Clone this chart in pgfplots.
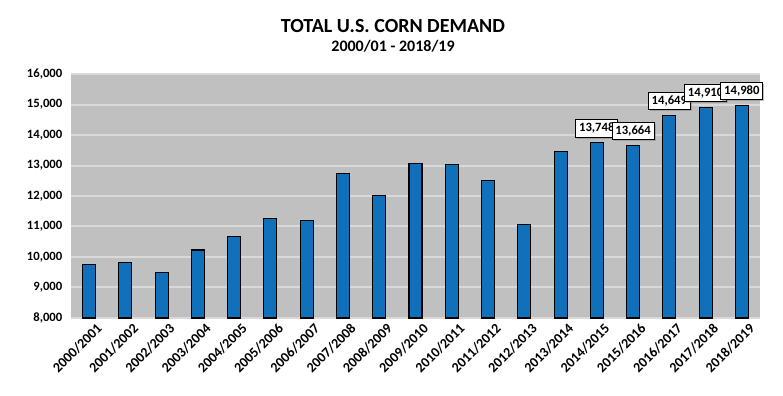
\documentclass[border=0pt]{standalone}
\usepackage{pgfplots}
\pgfplotsset{compat=1.18}
\usepackage{fontspec}
\setmainfont{Carlito}
\usetikzlibrary{shadows}
\definecolor{barblue}{RGB}{16,112,186}
\definecolor{plotbg}{RGB}{192,192,192}
\definecolor{gridc}{RGB}{217,217,217}
\begin{document}
\begin{tikzpicture}
\path[use as bounding box] (0,0) rectangle (587.25pt,297pt);
\node[font=\bfseries\fontsize{15}{17}\selectfont] at (294.75pt,277.5pt) {TOTAL U.S. CORN DEMAND};
\node[font=\bfseries\fontsize{12}{14}\selectfont] at (294.75pt,262pt) {2000/01 - 2018/19};
\begin{axis}[
  at={(53.25pt,58.5pt)}, anchor=south west,
  scale only axis, width=516.75pt, height=183pt,
  xmin=-0.5, xmax=18.5, ymin=8000, ymax=16000,
  ytick distance=1000,
  scaled y ticks=false,
  xtick={0,...,18},
  xticklabels={},
  yticklabel style={font=\bfseries\fontsize{9.5}{11}\selectfont, xshift=-3pt},
  yticklabel={\pgfmathprintnumber[1000 sep={,}, fixed, assume math mode=true]{\tick}},
  axis background/.style={fill=plotbg},
  axis line style={draw=none},
  major tick length=0pt,
  ymajorgrids, grid style={line width=1.5pt, gridc},
  clip=false,
]
\addplot[ybar, bar width=9.75pt, fill=barblue, draw=black, line width=0.8pt] coordinates {
(0,9740) (1,9815) (2,9490) (3,10230) (4,10660) (5,11270) (6,11210) (7,12740) (8,12010) (9,13060) (10,13040) (11,12500) (12,11080) (13,13450) (14,13748) (15,13664) (16,14649) (17,14910) (18,14980)};
\addplot[draw=none, mark=none, point meta=y,
  nodes near coords={\pgfmathprintnumber[1000 sep={,}, fixed, assume math mode=true]{\pgfplotspointmeta}},
  every node near coord/.append style={font=\bfseries\fontsize{9.5}{11}\selectfont, fill=white, draw=black, line width=0.6pt, inner sep=2.5pt, anchor=south, yshift=4pt, drop shadow={shadow xshift=1.2pt, shadow yshift=-1.2pt, opacity=0.5}}
] coordinates {(14,13748) (15,13664) (16,14649) (17,14910) (18,14980)};
\end{axis}
\foreach \lab [count=\i from 0] in {2000/2001,2001/2002,2002/2003,2003/2004,2004/2005,2005/2006,2006/2007,2007/2008,2008/2009,2009/2010,2010/2011,2011/2012,2012/2013,2013/2014,2014/2015,2015/2016,2016/2017,2017/2018,2018/2019}{
  \pgfmathsetmacro{\xx}{53.25+(\i+0.5)*516.75/19+5}
  \node[rotate=45, anchor=north east, inner sep=0pt, font=\bfseries\fontsize{10.5}{12}\selectfont] at (\xx pt,55.5pt) {\lab};
}
\end{tikzpicture}
\end{document}
